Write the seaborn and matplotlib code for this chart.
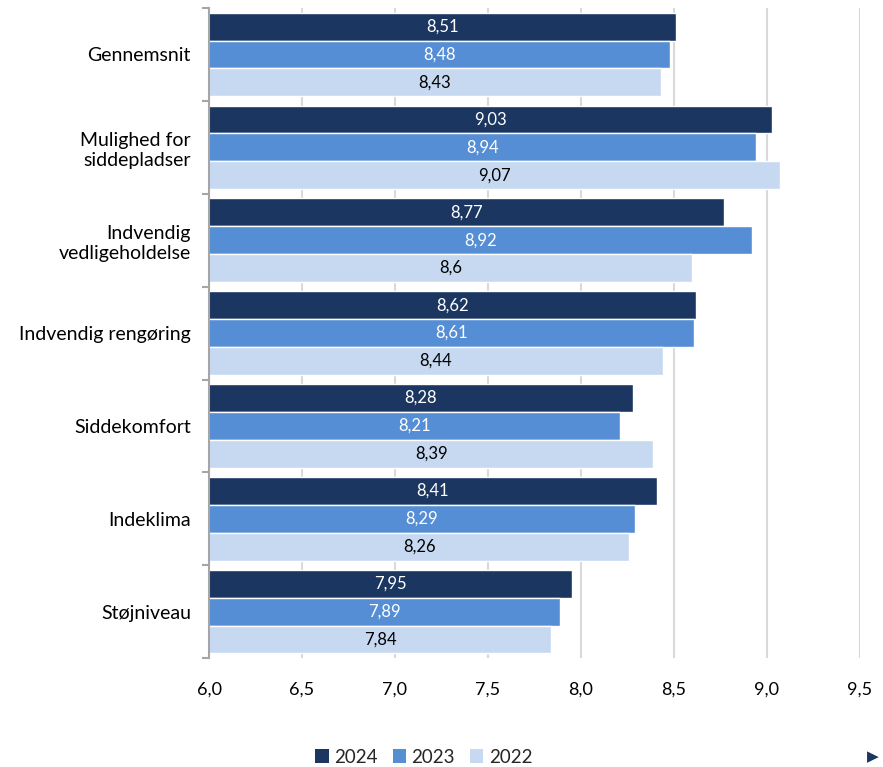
import matplotlib
matplotlib.use("Agg")
import matplotlib.pyplot as plt
import seaborn as sns
import pandas as pd
import numpy as np
from matplotlib.patches import Patch
from matplotlib.ticker import MultipleLocator, FixedLocator

categories = ["Gennemsnit", "Mulighed for\nsiddepladser", "Indvendig\nvedligeholdelse",
              "Indvendig rengøring", "Siddekomfort", "Indeklima", "Støjniveau"]
years = ["2024", "2023", "2022"]
v2024 = [8.51, 9.03, 8.77, 8.62, 8.28, 8.41, 7.95]
v2023 = [8.48, 8.94, 8.92, 8.61, 8.21, 8.29, 7.89]
v2022 = [8.43, 9.07, 8.60, 8.44, 8.39, 8.26, 7.84]
colors = ["#1B3660", "#558ED5", "#C6D9F1"]
label_colors = ["white", "white", "black"]

rows = []
for yr, vals in zip(years, [v2024, v2023, v2022]):
    for c, v in zip(categories, vals):
        rows.append({"Kategori": c, "År": yr, "Værdi": v})
df = pd.DataFrame(rows)

sns.set_style("white")
plt.rcParams["font.family"] = ["Lato", "DejaVu Sans"]

fig = plt.figure(figsize=(8.83, 7.67), dpi=100)
ax = fig.add_axes([0.2367, 0.142, 0.737, 0.8475])

sns.barplot(data=df, y="Kategori", x="Værdi", hue="År", hue_order=years,
            order=categories, palette=colors, saturation=1, orient="h", width=0.9,
            edgecolor="white", linewidth=1, ax=ax, legend=False, errorbar=None)

ax.set_xlim(6.0, 9.5)
ax.set_ylim(6.5, -0.5)
ax.xaxis.set_major_locator(MultipleLocator(0.5))
ax.set_xticklabels([f"{t:.1f}".replace(".", ",") for t in ax.get_xticks()])
ax.grid(axis="x", color="#D9D9D9", linewidth=1.5)
ax.set_axisbelow(True)
ax.set_xlabel("")
ax.set_ylabel("")

for s in ["top", "right", "bottom"]:
    ax.spines[s].set_visible(False)
ax.spines["left"].set_color("#A6A6A6")
ax.spines["left"].set_linewidth(1.5)

ax.yaxis.set_minor_locator(FixedLocator(np.arange(-0.5, 7.0, 1.0)))
ax.tick_params(axis="y", which="major", length=0, pad=13, labelsize=14, labelcolor="black")
ax.tick_params(axis="y", which="minor", length=5, width=1.5, color="#A6A6A6", direction="out", left=True)
ax.tick_params(axis="x", which="major", length=0, pad=17, labelsize=13, labelcolor="black")

for cont, lc in zip(ax.containers, label_colors):
    labels = [f"{b.get_width():g}".replace(".", ",") for b in cont]
    ax.bar_label(cont, labels=labels, label_type="center", color=lc, fontsize=12)

handles = [Patch(facecolor=c, edgecolor="none") for c in colors]
fig.legend(handles, years, loc="center", bbox_to_anchor=(0.48, 0.013), ncol=3,
           frameon=False, fontsize=13.5, handlelength=0.7, handleheight=0.7,
           handletextpad=0.3, columnspacing=0.8)

fig.text(0.988, 0.013, "▶", color="#1B3660", fontsize=11, ha="center", va="center",
         family="DejaVu Sans")

fig.savefig("out.png", dpi=100)
